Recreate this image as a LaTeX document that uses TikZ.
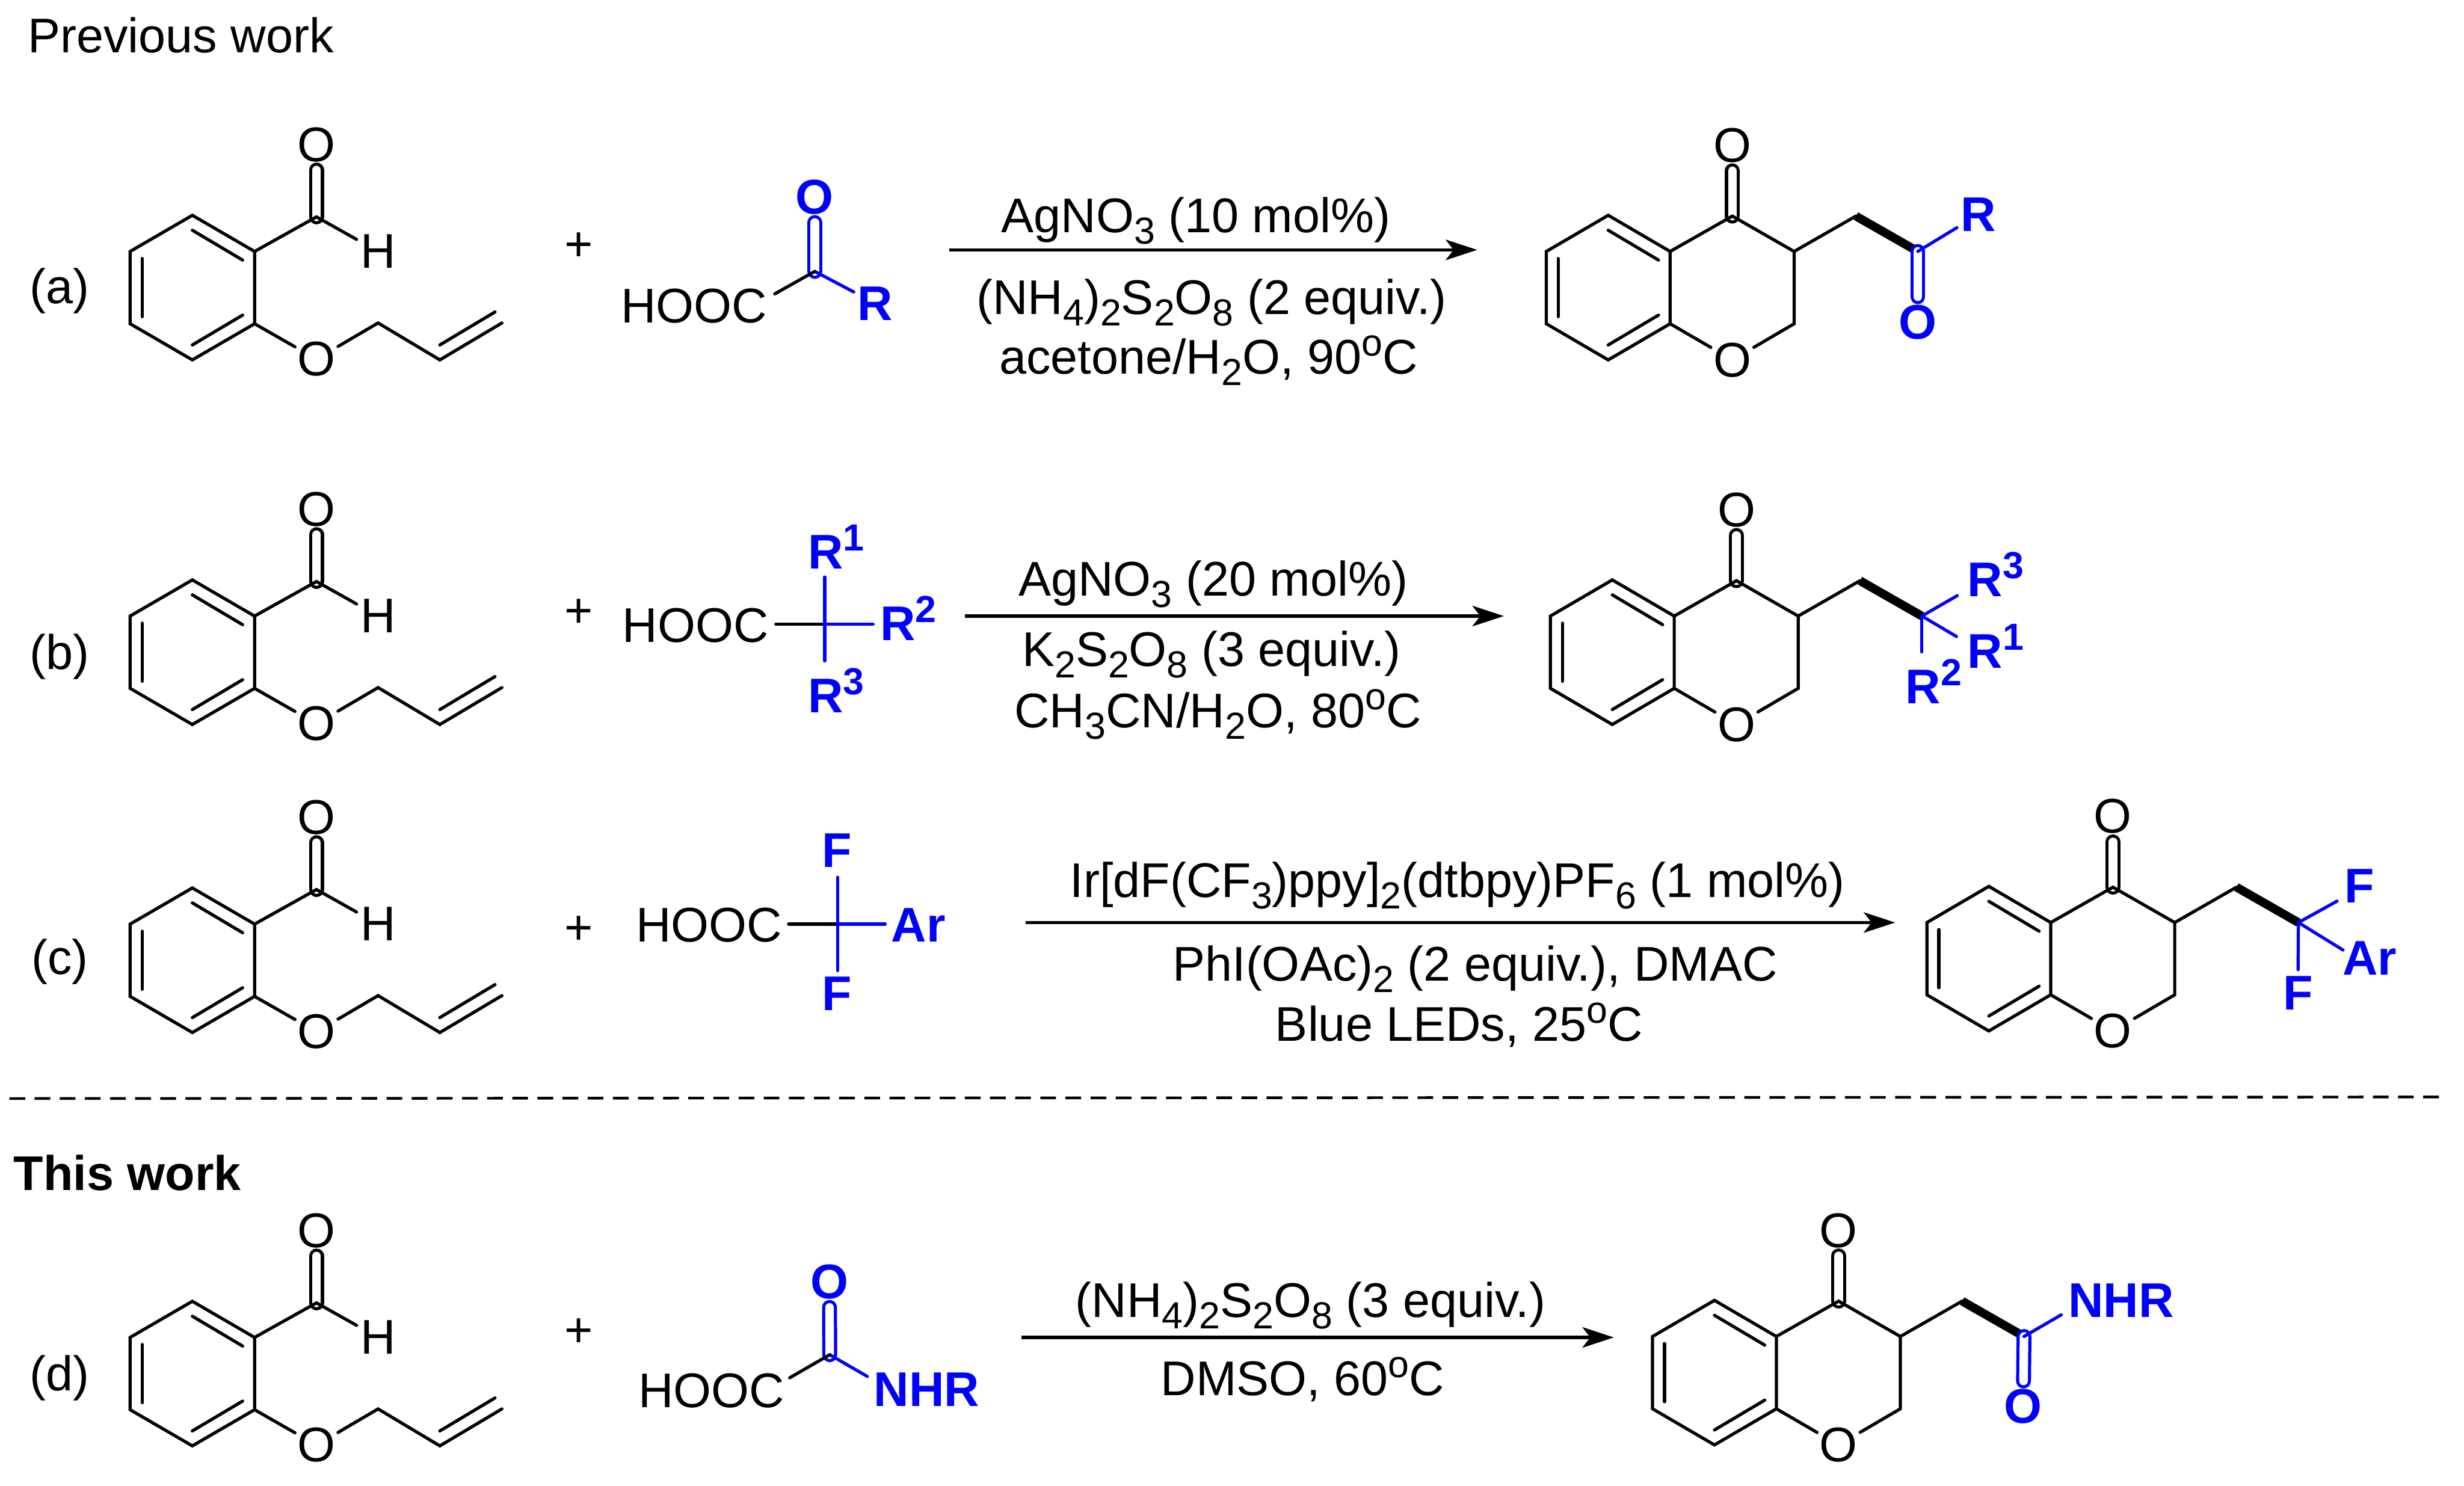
\documentclass[tikz,border=0pt]{standalone}
\usepackage{fontspec}
\setmainfont{Liberation Sans}
\usetikzlibrary{arrows.meta}
\newcommand{\mainsize}{\fontsize{31}{36}\selectfont}
\newcommand{\lowidx}[1]{\raisebox{-7.3pt}{\fontsize{24}{24}\selectfont #1}}
\newcommand{\upidx}[1]{\raisebox{11.5pt}{\fontsize{24}{24}\selectfont #1}}
\begin{document}
\begin{tikzpicture}[x=1pt,y=-1pt,
	every node/.style = {font=\mainsize, inner sep=0pt},
	bond/.style = {line width=2pt, line cap=round},
	dbond/.style = {bond, double, double distance=5.5pt},
	bluebond/.style = {bond, blue},
	bluedbond/.style = {dbond, draw=blue, double=white},
	thickbond/.style = {line width=5.5pt},
	rxn/.style = {line width=2pt, -{Stealth[length=20pt,width=13pt,inset=5pt]}},
	atom/.style = {minimum width=27pt, minimum height=32pt},
	group/.style = {atom, text=blue, font=\mainsize\bfseries},
	grouptext/.style = {anchor=base west, text=blue, font=\mainsize\bfseries},
	cond/.style = {anchor=base},
	plain/.style = {anchor=base west}]
	\useasboundingbox (0,0) rectangle (1568,945.5);
	% Headings
	\node[plain] (prev) at (17.5,33.6) {Previous work};
	\node[plain, font=\mainsize\bfseries] (this) at (8.5,757.5) {This work};
	% Aldehydes
	\foreach \rowname/\cy/\ly/\py in {a/183/193/157, b/415/426/390, c/611/620/592, d/874/885/848}{
		\node[cond] (\rowname-tag) at (38,\ly) {(\rowname)};
		\node (\rowname-plus) at (368.5,\py) {+};
		\begin{scope}[shift={(122.4,\cy)}]
			\coordinate (\rowname-t) at (0,-46);
			\coordinate (\rowname-ur) at (39.6,-23);
			\coordinate (\rowname-lr) at (39.6,23);
			\coordinate (\rowname-b) at (0,46);
			\coordinate (\rowname-ll) at (-39.6,23);
			\coordinate (\rowname-ul) at (-39.6,-23);
			\coordinate (\rowname-cho) at (79,-45);
			\coordinate (\rowname-ch2) at (118.2,22.5);
			\coordinate (\rowname-ch) at (157.5,46);
			\coordinate (\rowname-vin) at (197,22.5);
			\node[atom] (\rowname-oa) at (79,-91) {O};
			\node[atom] (\rowname-h) at (118.2,-23) {H};
			\node[atom] (\rowname-oe) at (79,45.5) {O};
			% inner lines
			\coordinate (\rowname-i1) at (0,-36.5);
			\coordinate (\rowname-i2) at (32,-17.5);
			\coordinate (\rowname-i3) at (0,36.5);
			\coordinate (\rowname-i4) at (32,17.5);
			\coordinate (\rowname-i5) at (-31.8,-18.5);
			\coordinate (\rowname-i6) at (-31.8,18.5);
			\coordinate (\rowname-i7) at (157.5,36.5);
			\coordinate (\rowname-i8) at (192.6,15.5);
		\end{scope}
		\draw[dbond] (\rowname-cho) -- (\rowname-oa);
		\draw[bond] (\rowname-t) -- (\rowname-ur) -- (\rowname-lr) -- (\rowname-b) -- (\rowname-ll) -- (\rowname-ul) -- cycle;
		\draw[bond] (\rowname-i1) -- (\rowname-i2);
		\draw[bond] (\rowname-i3) -- (\rowname-i4);
		\draw[bond] (\rowname-i5) -- (\rowname-i6);
		\draw[bond] (\rowname-ur) -- (\rowname-cho) -- (\rowname-h);
		\draw[bond] (\rowname-lr) -- (\rowname-oe) -- (\rowname-ch2) -- (\rowname-ch) -- (\rowname-vin);
		\draw[bond] (\rowname-i7) -- (\rowname-i8);
	}
	% Chromanones
	\foreach \rowname/\px/\py in {a/1023.4/183, b/1026/415, c/1265.6/610, d/1091/873.4}{
		\begin{scope}[shift={(\px,\py)}]
			\coordinate (p\rowname-t) at (0,-46);
			\coordinate (p\rowname-ur) at (39.4,-23);
			\coordinate (p\rowname-lr) at (39.4,23);
			\coordinate (p\rowname-b) at (0,46);
			\coordinate (p\rowname-ll) at (-39.4,23);
			\coordinate (p\rowname-ul) at (-39.4,-23);
			\coordinate (p\rowname-c4) at (79,-45.5);
			\coordinate (p\rowname-c3) at (118.3,-23);
			\coordinate (p\rowname-c2) at (118.3,23);
			\coordinate (p\rowname-ch2) at (157.6,-45.5);
			\coordinate (p\rowname-x) at (197,-23);
			\node[atom] (p\rowname-oa) at (79,-90.5) {O};
			\node[atom] (p\rowname-oe) at (79,46) {O};
			% inner lines
			\coordinate (p\rowname-i1) at (0,-36.5);
			\coordinate (p\rowname-i2) at (32,-17.5);
			\coordinate (p\rowname-i3) at (0,36.5);
			\coordinate (p\rowname-i4) at (32,17.5);
			\coordinate (p\rowname-i5) at (-31.8,-18.5);
			\coordinate (p\rowname-i6) at (-31.8,18.5);
		\end{scope}
		\draw[dbond] (p\rowname-c4) -- (p\rowname-oa);
		\draw[bond] (p\rowname-t) -- (p\rowname-ur) -- (p\rowname-lr) -- (p\rowname-b) -- (p\rowname-ll) -- (p\rowname-ul) -- cycle;
		\draw[bond] (p\rowname-i1) -- (p\rowname-i2);
		\draw[bond] (p\rowname-i3) -- (p\rowname-i4);
		\draw[bond] (p\rowname-i5) -- (p\rowname-i6);
		\draw[bond] (p\rowname-ur) -- (p\rowname-c4) -- (p\rowname-c3) -- (p\rowname-ch2);
		\draw[bond] (p\rowname-c3) -- (p\rowname-c2) -- (p\rowname-oe) -- (p\rowname-lr);
		\draw[thickbond] (p\rowname-ch2) -- (p\rowname-x);
	}
	% (a) keto acid and its product
	\node[plain] (a-hooc) at (395,205.5) {HOOC};
	\coordinate (a-bond) at (493,187);
	\coordinate (a-c) at (518.5,172.7);
	\node[group] (a-o) at (518.5,125.4) {O};
	\node[group] (a-r) at (557,193) {R};
	\draw[bluedbond] (a-c) -- (a-o);
	\draw[bluebond] (a-c) -- (a-r);
	\draw[bond] (a-bond) -- (a-c);
	\node[group] (pa-r) at (1259,136.5) {R};
	\node[group] (pa-o) at (1220.4,205) {O};
	\draw[bluedbond] (pa-x) -- (pa-o);
	\draw[bluebond] (pa-x) -- (pa-r);
	% (b) acid and its product
	\node[plain] (b-hooc) at (396,408.6) {HOOC};
	\coordinate (b-bond) at (493.7,397.2);
	\coordinate (b-c) at (524.8,397.2);
	\coordinate (b-e1) at (524.8,367.2);
	\coordinate (b-e2) at (555.6,397.2);
	\coordinate (b-e3) at (524.8,420.5);
	\node[grouptext] (b-r1) at (514,361.8) {R\upidx{1}};
	\node[grouptext] (b-r2) at (560,407.4) {R\upidx{2}};
	\node[grouptext] (b-r3) at (514,453.5) {R\upidx{3}};
	\draw[bond] (b-bond) -- (b-c);
	\draw[bluebond] (b-c) -- (b-e1);
	\draw[bluebond] (b-c) -- (b-e2);
	\draw[bluebond] (b-c) -- (b-e3);
	\coordinate (pb-e3) at (1245.5,379);
	\coordinate (pb-e1) at (1245,405);
	\coordinate (pb-e2) at (1223,414.8);
	\node[grouptext] (pb-r3) at (1251.8,379.6) {R\upidx{3}};
	\node[grouptext] (pb-r1) at (1251.8,425) {R\upidx{1}};
	\node[grouptext] (pb-r2) at (1212.4,447.6) {R\upidx{2}};
	\draw[bluebond] (pb-x) -- (pb-e3);
	\draw[bluebond] (pb-x) -- (pb-e1);
	\draw[bluebond] (pb-x) -- (pb-e2);
	% (c) difluoro acid and its product
	\node[plain] (c-hooc) at (404.5,599.4) {HOOC};
	\coordinate (c-bond) at (501.9,588);
	\coordinate (c-c) at (533,588);
	\coordinate (c-e1) at (533,558.2);
	\coordinate (c-e2) at (533,617.6);
	\coordinate (c-e3) at (563.3,588);
	\node[group] (c-f1) at (532.4,541.2) {F};
	\node[group] (c-f2) at (532.4,632.4) {F};
	\node[grouptext] (c-ar) at (567,599.4) {Ar};
	\draw[bond] (c-bond) -- (c-c);
	\draw[bluebond] (c-c) -- (c-e1);
	\draw[bluebond] (c-c) -- (c-e2);
	\draw[bluebond] (c-c) -- (c-e3);
	\coordinate (pc-e1) at (1487.2,573.4);
	\coordinate (pc-e2) at (1491,604.5);
	\coordinate (pc-e3) at (1462.4,617);
	\node[group] (pc-f1) at (1501.4,563.7) {F};
	\node[group] (pc-f2) at (1462.4,631.7) {F};
	\node[grouptext] (pc-ar) at (1490.5,620.5) {Ar};
	\draw[bluebond] (pc-x) -- (pc-e1);
	\draw[bluebond] (pc-x) -- (pc-e2);
	\draw[bluebond] (pc-x) -- (pc-e3);
	% (d) oxamic acid and its product
	\node[plain] (d-hooc) at (406,895.7) {HOOC};
	\coordinate (d-bond) at (502.5,876.7);
	\coordinate (d-c) at (528,862);
	\coordinate (d-e) at (551.9,875.8);
	\node[group] (d-o) at (527.8,815.7) {O};
	\node[grouptext] (d-nhr) at (556,895) {NHR};
	\draw[bluedbond] (d-c) -- (d-o);
	\draw[bluebond] (d-c) -- (d-e);
	\draw[bond] (d-bond) -- (d-c);
	\coordinate (pd-e) at (1311.7,836.6);
	\node[grouptext] (pd-nhr) at (1316,838) {NHR};
	\node[group] (pd-o) at (1287.5,894.9) {O};
	\draw[bluedbond] (pd-x) -- (pd-o);
	\draw[bluebond] (pd-x) -- (pd-e);
	% Arrows
	\coordinate (a-from) at (604,159);
	\coordinate (a-to) at (940,159);
	\coordinate (b-from) at (614,392);
	\coordinate (b-to) at (957,392);
	\coordinate (c-from) at (652.5,587);
	\coordinate (c-to) at (1206,587);
	\coordinate (d-from) at (650,851);
	\coordinate (d-to) at (1027,851);
	\foreach \rowname in {a,b,c,d}{
		\draw[rxn] (\rowname-from) -- (\rowname-to);
	}
	% Conditions
	\node[cond] (a-c1) at (761,148) {AgNO\lowidx{3} (10 mol\%)};
	\node[cond] (a-c2) at (771,200) {(NH\lowidx{4})\lowidx{2}S\lowidx{2}O\lowidx{8} (2 equiv.)};
	\node[cond] (a-c3) at (769,238) {acetone/H\lowidx{2}O, 90\upidx{o}C};
	\node[cond] (b-c1) at (772,379) {AgNO\lowidx{3} (20 mol\%)};
	\node[cond] (b-c2) at (771,424) {K\lowidx{2}S\lowidx{2}O\lowidx{8} (3 equiv.)};
	\node[cond] (b-c3) at (775,463) {CH\lowidx{3}CN/H\lowidx{2}O, 80\upidx{o}C};
	\node[cond] (c-c1) at (927.4,571) {Ir[dF(CF\lowidx{3})ppy]\lowidx{2}(dtbpy)PF\lowidx{6} (1 mol\%)};
	\node[cond] (c-c2) at (938.7,624) {PhI(OAc)\lowidx{2} (2 equiv.), DMAC};
	\node[cond] (c-c3) at (928.5,662.6) {Blue LEDs, 25\upidx{o}C};
	\node[cond] (d-c1) at (834,838) {(NH\lowidx{4})\lowidx{2}S\lowidx{2}O\lowidx{8} (3 equiv.)};
	\node[cond] (d-c2) at (829,888) {DMSO, 60\upidx{o}C};
	% Separator
	\coordinate (sep-l) at (6,699);
	\coordinate (sep-r) at (1556,698);
	\draw[line width=1.7pt, dash pattern=on 10pt off 6pt] (sep-l) -- (sep-r);
\end{tikzpicture}
\end{document}
